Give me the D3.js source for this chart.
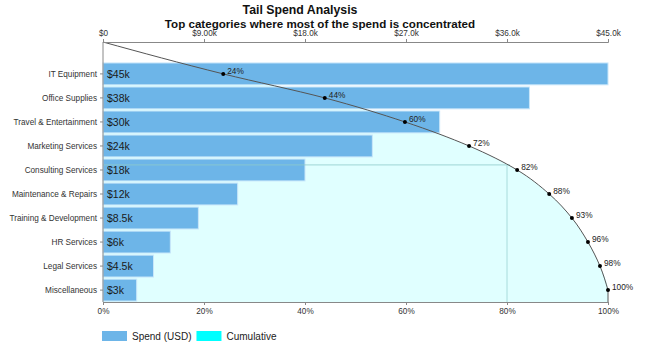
<!DOCTYPE html>
<html><head><meta charset="utf-8">
<script src="https://cdn.jsdelivr.net/npm/d3@7"></script>
<style>
body{margin:0;background:#fff;}
svg{font-family:"Liberation Sans",Arial,sans-serif;}
</style></head>
<body><svg id="c" width="650" height="352"></svg>
<script>
const categories = ["IT Equipment","Office Supplies","Travel & Entertainment","Marketing Services","Consulting Services","Maintenance & Repairs","Training & Development","HR Services","Legal Services","Miscellaneous"];
const spend = [45000,38000,30000,24000,18000,12000,8500,6000,4500,3000];
const spendLabels = ["$45k","$38k","$30k","$24k","$18k","$12k","$8.5k","$6k","$4.5k","$3k"];
const topTicks = [0,9000,18000,27000,36000,45000];
const topTickLabels = ["$0","$9.00k","$18.0k","$27.0k","$36.0k","$45.0k"];
const pctTicks = [0,0.2,0.4,0.6,0.8,1];
const threshold = 0.8;

const svg = d3.select("#c");
const L=103,R=608,T=42,B=302;
const total = d3.sum(spend);
let acc=0;
const cum = spend.map(v=>{acc+=v;return acc/total;});

const x = d3.scaleLinear().domain([0,45000]).range([L,R]);
const xp = d3.scaleLinear().domain([0,1]).range([L,R]);
const y = d3.scaleBand().domain(categories).range([62,B]).paddingInner(0.09).paddingOuter(0.04);
const cy = c=>y(c)+y.bandwidth()/2;

const dataPts = categories.map((c,i)=>({p:cum[i],y:cy(c),lab:Math.round(cum[i]*100)+"%"}));
const linePts = [{p:0,y:T}].concat(dataPts);
const areaPts = dataPts.concat([{p:1,y:B}]);

// area
const area = d3.area().curve(d3.curveMonotoneY).y(d=>d.y).x0(L).x1(d=>xp(d.p));
svg.append("path").datum(areaPts).attr("d",area).attr("fill","#e0ffff");

// bars
svg.append("g").selectAll("rect").data(categories).join("rect")
  .attr("x",L).attr("y",d=>y(d)).attr("height",y.bandwidth())
  .attr("width",(d,i)=>x(spend[i])-L)
  .attr("fill","#6db5e8").attr("stroke","#c8e6fa").attr("stroke-width",1);

// threshold lines
let yT;
for(let i=1;i<linePts.length;i++){ if(linePts[i].p>=threshold){const a=linePts[i-1],b=linePts[i];yT=a.y+(threshold-a.p)/(b.p-a.p)*(b.y-a.y);break;} }
svg.append("line").attr("x1",L).attr("x2",xp(threshold)+3).attr("y1",yT).attr("y2",yT)
  .attr("stroke","#8fcaca").attr("stroke-opacity",0.8);
svg.append("line").attr("x1",xp(threshold)).attr("x2",xp(threshold)).attr("y1",yT).attr("y2",B)
  .attr("stroke","#a8dcdc");

// bar labels
svg.append("g").selectAll("text").data(categories).join("text")
  .attr("x",L+4).attr("y",d=>cy(d)+3.8).attr("font-size",10.5).attr("fill","#1a1a1a")
  .text((d,i)=>spendLabels[i]);

// curve
const line = d3.line().curve(d3.curveMonotoneY).y(d=>d.y).x(d=>xp(d.p));
svg.append("path").datum(linePts).attr("d",line).attr("fill","none").attr("stroke","#555").attr("stroke-width",1);
svg.append("line").attr("x1",xp(1)).attr("x2",xp(1)).attr("y1",dataPts[dataPts.length-1].y).attr("y2",B).attr("stroke","#555");
const pg = svg.append("g").selectAll("g").data(dataPts).join("g");
pg.append("circle").attr("cx",d=>xp(d.p)).attr("cy",d=>d.y).attr("r",2).attr("fill","#000");
pg.append("text").attr("x",d=>xp(d.p)+4).attr("y",d=>d.y).attr("font-size",8.3).attr("fill","#222")
  .text(d=>d.lab);

// axes
function styleAxis(g){g.selectAll("path,line").attr("stroke","#888");g.selectAll("text").attr("fill","#333").attr("font-size",8.2).attr("font-family","Liberation Sans,Arial,sans-serif");}
svg.append("g").attr("transform",`translate(0,${T})`)
  .call(d3.axisTop(x).tickValues(topTicks).tickFormat((d,i)=>topTickLabels[i]).tickSizeOuter(0).tickSize(3))
  .call(styleAxis);
svg.append("g").attr("transform",`translate(0,${B})`)
  .call(d3.axisBottom(xp).tickValues(pctTicks).tickFormat(d3.format(".0%")).tickSizeOuter(0).tickSize(3))
  .call(styleAxis);
svg.append("g").attr("transform",`translate(${L},0)`)
  .call(d3.axisLeft(y).tickSize(3).tickSizeOuter(0))
  .call(g=>g.select(".domain").attr("d",`M0,${T}V${B}`))
  .call(styleAxis);

// title
svg.append("text").attr("x",300).attr("y",14).attr("text-anchor","middle").attr("font-size",12.3).attr("font-weight","bold").attr("fill","#111").text("Tail Spend Analysis");
svg.append("text").attr("x",320).attr("y",28).attr("text-anchor","middle").attr("font-size",11.6).attr("font-weight","bold").attr("fill","#111").text("Top categories where most of the spend is concentrated");

// legend
const leg = [{n:"Spend (USD)",c:"#6db5e8"},{n:"Cumulative",c:"#00ffff"}];
let lx=102;
leg.forEach(l=>{
  svg.append("rect").attr("x",lx).attr("y",331).attr("width",25).attr("height",10).attr("fill",l.c);
  const t=svg.append("text").attr("x",lx+30).attr("y",340).attr("font-size",10).attr("fill","#222").text(l.n);
  lx += 30 + t.node().getComputedTextLength() + 5;
});
</script></body></html>
